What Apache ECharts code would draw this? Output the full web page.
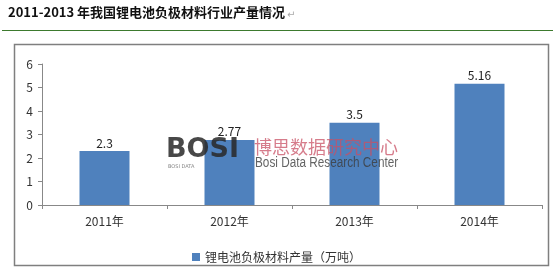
<!DOCTYPE html>
<html>
<head>
<meta charset="utf-8">
<script src="https://cdn.jsdelivr.net/npm/echarts@6/dist/echarts.min.js"></script>
<style>html,body{margin:0;padding:0;background:#fff}#c{width:553px;height:280px}</style>
</head>
<body>
<div id="c"></div>
<script>
var titleText = '2011-2013 年我国锂电池负极材料行业产量情况';
var categories = ['2011年', '2012年', '2013年', '2014年'];
var seriesName = '锂电池负极材料产量（万吨）';
var values = [2.3, 2.77, 3.5, 5.16];
var yTicks = [0, 1, 2, 3, 4, 5, 6];

var font = '"Noto Sans CJK SC", "DejaVu Sans", sans-serif';
var chart = echarts.init(document.getElementById('c'));
chart.setOption({
  animation: false,
  backgroundColor: '#fff',
  grid: {left: 42, right: 11, top: 64, bottom: 75},
  legend: {
    data: [seriesName],
    bottom: 12,
    left: 'center',
    itemWidth: 8, itemHeight: 8, itemGap: 4,
    icon: 'rect',
    textStyle: {fontFamily: font, fontSize: 12, color: '#333'}
  },
  xAxis: {
    type: 'category',
    data: categories,
    axisLine: {lineStyle: {color: '#888', width: 1}},
    axisTick: {show: true, lineStyle: {color: '#888'}, length: 4, inside: false},
    axisLabel: {fontFamily: font, fontSize: 12, color: '#333', margin: 10}
  },
  yAxis: {
    type: 'value',
    min: yTicks[0], max: yTicks[yTicks.length - 1], interval: 1,
    axisLine: {show: true, lineStyle: {color: '#888'}},
    axisTick: {show: true, length: 4, lineStyle: {color: '#888'}},
    splitLine: {show: false},
    axisLabel: {fontFamily: font, fontSize: 12, color: '#333', margin: 9}
  },
  series: [{
    name: seriesName,
    type: 'bar',
    data: values,
    barWidth: '40%',
    itemStyle: {color: '#4F81BD'},
    label: {show: true, position: 'top', distance: 2, fontFamily: font, fontSize: 12, color: '#222'},
    z: 2
  }],
  graphic: [
    {type: 'text', left: 8, top: 6, style: {text: titleText, font: 'bold 13px ' + font, fill: '#111'}},
    {type: 'text', left: 287, top: 9, style: {text: '↵', font: '10px ' + font, fill: '#aaa'}},
    {type: 'line', shape: {x1: 2, y1: 30.5, x2: 553, y2: 30.5}, style: {stroke: '#3d7a2e', lineWidth: 1.2}},
    {type: 'rect', shape: {x: 14.5, y: 44.5, width: 534, height: 221}, style: {fill: 'none', stroke: '#7f7f7f', lineWidth: 1.5}, z: -1},
    {type: 'text', left: 166, top: 136, style: {text: 'BOSI', font: 'bold 27px "DejaVu Sans", sans-serif', fill: 'rgba(40,40,40,0.85)'}, z: 10},
    {type: 'text', left: 168, top: 164, style: {text: 'BOSI DATA', font: '5px "DejaVu Sans", sans-serif', fill: 'rgba(80,80,80,0.7)'}, z: 10},
    {type: 'text', left: 254, top: 138, style: {text: '博思数据研究中心', font: '18px ' + font, fill: 'rgba(200,80,100,0.75)'}, z: 10},
    {type: 'text', x: 255, y: 156, scaleX: 0.84, style: {text: 'Bosi Data Research Center', font: '14px "Liberation Sans", sans-serif', fill: 'rgba(60,60,60,0.8)'}, z: 10}
  ]
});
</script>
</body>
</html>
